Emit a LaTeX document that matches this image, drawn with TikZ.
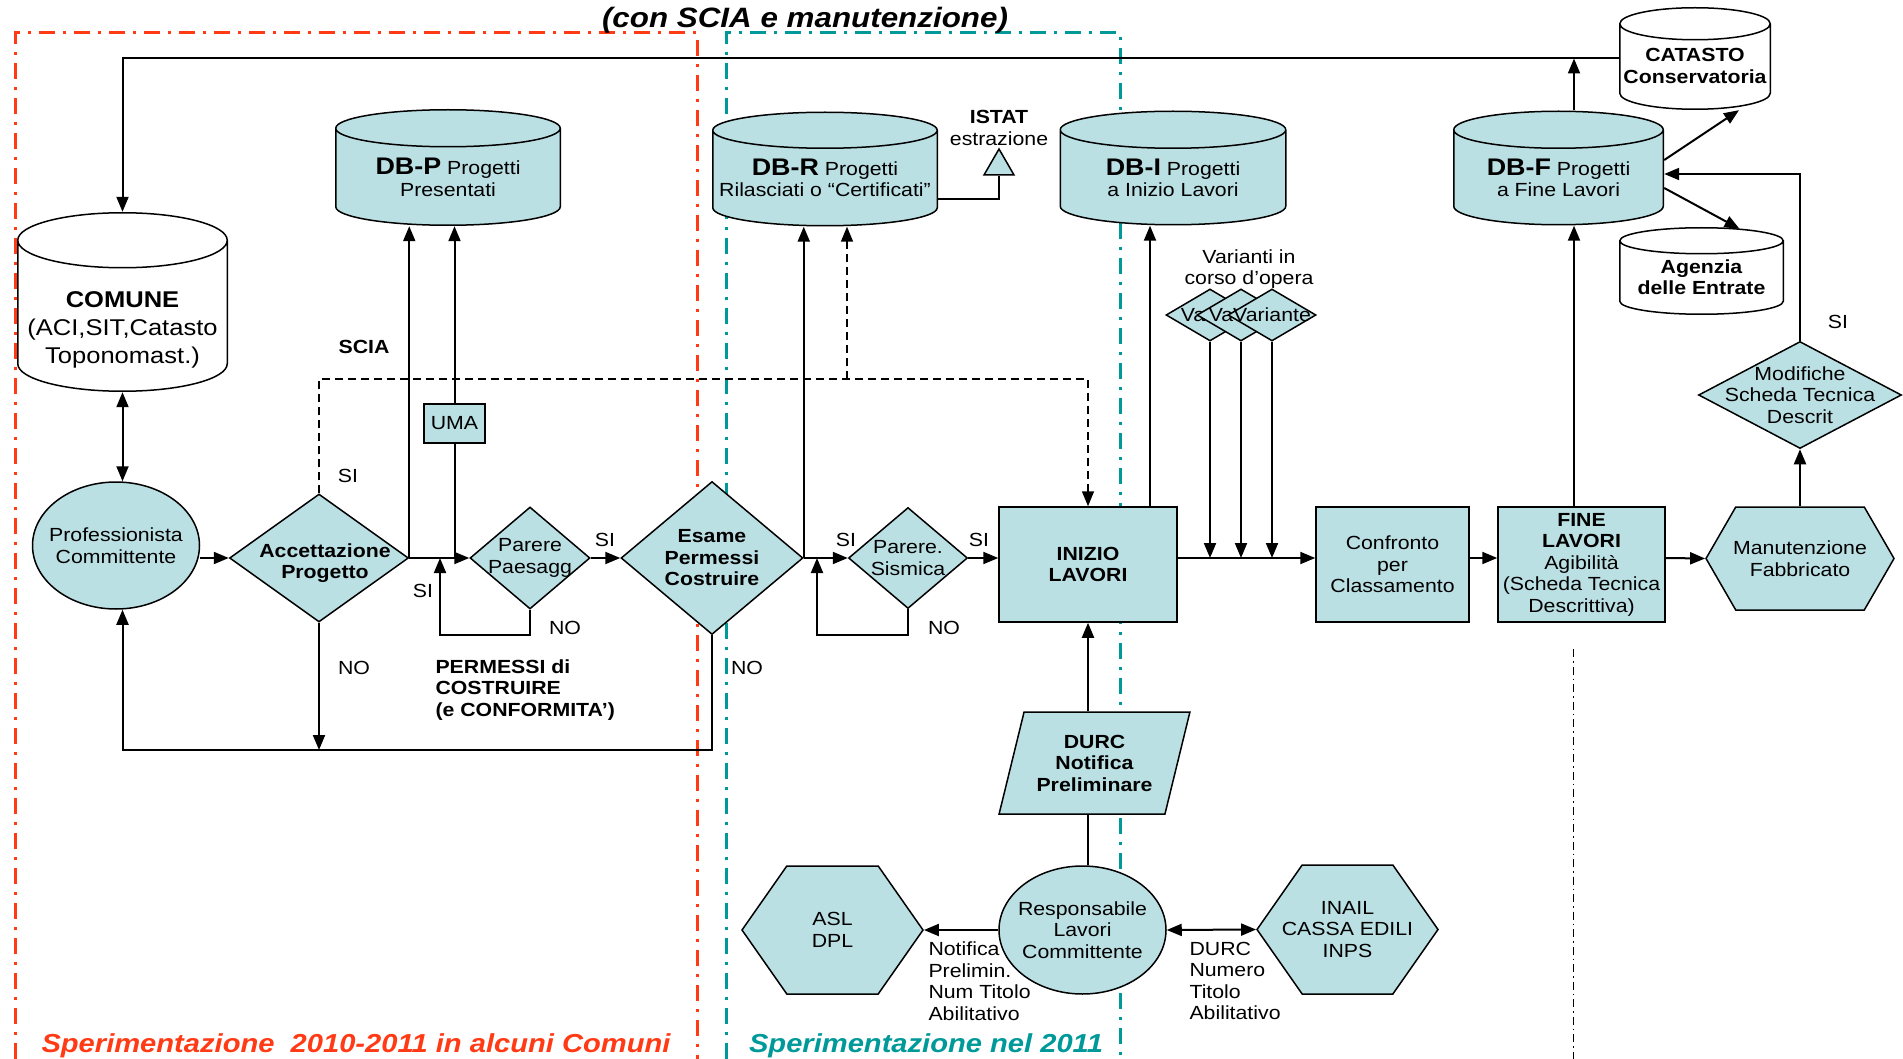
\documentclass[tikz,border=0pt]{standalone}
\usepackage{fontspec}
\setmainfont{Liberation Sans}[FakeStretch=1.12]
\usepackage{xcolor}
\usepackage{tikz}
\usetikzlibrary{shapes.geometric,shapes.symbols,arrows.meta,positioning,calc}

\definecolor{boxfill}{RGB}{187,224,228}
\definecolor{zonered}{RGB}{255,58,20}
\definecolor{zoneteal}{RGB}{0,153,153}

\begin{document}
\begin{tikzpicture}[x=1pt, y=-1pt,
    every node/.style={font=\fontsize{19}{21.5}\selectfont, align=center},
    boldtxt/.style={font=\fontsize{19}{21.5}\selectfont\bfseries},
    cyl/.style 2 args={rectangle, inner sep=0pt, path picture={
        \path[draw, fill=#2, line width=1.5pt]
          let \p1=(path picture bounding box.north west),
              \p2=(path picture bounding box.south east),
              \n1={(\x2-\x1)/2-0.75pt}
          in (\x1+0.75pt,\y1-#1-0.75pt) -- (\x1+0.75pt,\y2+#1+0.75pt)
             arc[start angle=180, end angle=360, x radius=\n1, y radius=#1]
             -- (\x2-0.75pt,\y1-#1-0.75pt)
             arc[start angle=0, end angle=180, x radius=\n1, y radius=#1]
             -- cycle
             (\x1+0.75pt,\y1-#1-0.75pt)
             arc[start angle=180, end angle=360, x radius=\n1, y radius=#1];
    }},
    decision/.style={diamond, draw, line width=1.5pt, fill=boxfill, inner sep=0pt},
    process/.style={rectangle, draw, line width=1.5pt, fill=boxfill, inner sep=2pt},
    actor/.style={ellipse, draw, line width=1.5pt, fill=boxfill, inner sep=0pt},
    office/.style={signal, signal to=west and east, signal pointer angle=110, draw, line width=1.5pt, fill=boxfill, inner sep=0pt},
    notice/.style={trapezium, trapezium left angle=70, trapezium right angle=110, trapezium stretches=true, draw, line width=1.5pt, fill=boxfill, inner sep=0pt},
    arrow/.style={-{Triangle[length=15pt,width=12pt]}, line width=2pt},
    dblarrow/.style={{Triangle[length=15pt,width=12pt]}-{Triangle[length=15pt,width=12pt]}, line width=2pt},
    dasharrow/.style={arrow, line width=1.5pt, dash pattern=on 8pt off 5pt},
    conn/.style={line width=2pt},
    zone/.style={line width=3pt, dash pattern=on 16pt off 8pt on 3pt off 8pt},
    zonelabel/.style={font=\fontsize{26}{28}\selectfont\bfseries\itshape}
]
\useasboundingbox (0,0) rectangle (1903,1059);

% Zones
\draw[zone, zonered] (15,1059) -- (15,33) -- (697,33) -- (697,1059);
\draw[zone, zoneteal] (726,1059) -- (726,33) -- (1120,33) -- (1120,1059);
\draw[line width=1pt, dash pattern=on 8pt off 4pt on 1.5pt off 4pt] (1573,649) -- (1573,1059);

% Title
\node[font=\fontsize{28}{30}\selectfont\bfseries\itshape] (title) at (805,20) {(con SCIA e manutenzione)};

% Databases
\node[cyl={27.5pt}{white}, minimum width=211pt, minimum height=180pt] (comune) at (122.5,302) {};
\node[font=\fontsize{22.8}{28}\selectfont] (comunetxt) at ([yshift=-28pt]comune.center) {\textbf{COMUNE}\\(ACI,SIT,Catasto\\Toponomast.)};
\node[cyl={18.5pt}{boxfill}, minimum width=226pt, minimum height=117pt] (dbp) at (448,167.5) {};
\node (dbptxt) at ([yshift=-10pt]dbp.center) {{\fontsize{24}{24}\selectfont\bfseries DB-P} Progetti\\Presentati};
\node[cyl={18pt}{boxfill}, minimum width=226pt, minimum height=115pt] (dbr) at (825,169) {};
\node (dbrtxt) at ([yshift=-9pt]dbr.center) {{\fontsize{24}{24}\selectfont\bfseries DB-R} Progetti\\Rilasciati o “Certificati”};
\node[cyl={18.5pt}{boxfill}, minimum width=227pt, minimum height=115pt] (dbi) at (1173,168) {};
\node (dbitxt) at ([yshift=-10pt]dbi.center) {{\fontsize{24}{24}\selectfont\bfseries DB-I} Progetti\\a Inizio Lavori};
\node[cyl={18.5pt}{boxfill}, minimum width=211pt, minimum height=115pt] (dbf) at (1558.5,168) {};
\node (dbftxt) at ([yshift=-10pt]dbf.center) {{\fontsize{24}{24}\selectfont\bfseries DB-F} Progetti\\a Fine Lavori};
\node[cyl={16pt}{white}, minimum width=152pt, minimum height=103pt] (catasto) at (1695,58.5) {};
\node[boldtxt] (catastotxt) at ([yshift=-7.5pt]catasto.center) {CATASTO\\Conservatoria};
\node[cyl={13pt}{white}, minimum width=165pt, minimum height=88pt] (agenzia) at (1701.5,271) {};
\node[boldtxt] (agenziatxt) at ([yshift=-6pt]agenzia.center) {Agenzia\\delle Entrate};

% ISTAT
\node[regular polygon, regular polygon sides=3, minimum size=34.6pt, inner sep=0pt, draw, line width=1.5pt, fill=boxfill] (istat) at (999,166.3) {};
\node (istatlbl) at (999,128) {\textbf{ISTAT}\\estrazione};

% Main flow
\node[actor, minimum width=167pt, minimum height=127pt, label={center:Professionista\\Committente}] (prof) at (116,545.5) {};
\node[decision, minimum width=179pt, minimum height=128pt, label={[boldtxt,xshift=6pt,yshift=-5pt]center:Accettazione\\Progetto}] (acc) at (319,558) {};
\node[process, minimum width=61pt, minimum height=39pt] (uma) at (454.5,423.5) {UMA};
\node[decision, minimum width=120pt, minimum height=102pt, label={center:Parere\\Paesagg}] (pp) at (530,558) {};
\node[decision, minimum width=182pt, minimum height=153pt, label={[boldtxt]center:Esame\\Permessi\\Costruire}] (esame) at (712,558) {};
\node[decision, minimum width=119pt, minimum height=101pt, label={center:Parere.\\Sismica}] (ps) at (908,558) {};
\node[process, minimum width=178pt, minimum height=115pt, boldtxt] (inizio) at (1088,564.5) {INIZIO\\LAVORI};
\node[process, minimum width=153pt, minimum height=115pt] (confr) at (1392.5,564.5) {Confronto\\per\\Classamento};
\node[process, minimum width=167pt, minimum height=115pt] (fine) at (1581.5,564.5) {\textbf{FINE}\\\textbf{LAVORI}\\Agibilità\\(Scheda Tecnica\\Descrittiva)};
\node[office, signal pointer angle=120, minimum width=188pt, minimum height=103pt, label={center:Manutenzione\\Fabbricato}] (manut) at (1800,558.5) {};
\node[decision, minimum width=203pt, minimum height=107pt, label={center:Modifiche\\Scheda Tecnica\\Descrit}] (mod) at (1800,395) {};

% Varianti
\node (varlbl) at (1249,269) {Varianti in\\corso d’opera};
\node[decision, minimum width=88pt, minimum height=52pt, label={[anchor=west,xshift=12pt]west:Va}] (var1) at (1210,315) {};
\node[decision, minimum width=88pt, minimum height=52pt, label={[anchor=west,xshift=9pt]west:Va}] (var2) at (1241,315) {};
\node[decision, minimum width=88pt, minimum height=52pt, label={center:Variante}] (var3) at (1272,315) {};

% Cantiere
\node[notice, minimum width=191pt, minimum height=102pt, boldtxt] (durc) at (1094.5,763) {DURC\\Notifica\\Preliminare};
\node[actor, minimum width=167pt, minimum height=128pt, label={center:Responsabile\\Lavori\\Committente}] (resp) at (1082.5,930) {};
\node[office, minimum width=181pt, minimum height=128pt, label={center:ASL\\DPL}] (asl) at (832.5,930) {};
\node[office, minimum width=181pt, minimum height=129pt, label={center:INAIL\\CASSA EDILI\\INPS}] (inail) at (1347.5,929.5) {};

% Connections
\coordinate (mainline) at (0,558);
\coordinate (noline) at (0,750);
\coordinate (sciaturn) at (847,379);
\coordinate (ppret) at (440,635);
\coordinate (psret) at (817,635);
\coordinate (fineline) at (1574,0);
\coordinate (inizioline) at (1150,0);

\draw[arrow] (catasto.west) -| (comune.north);
\draw[dblarrow] (comune.south) -- (comune.south |- prof.north);
\draw[arrow] (prof.east |- mainline) -- (acc.west);
\draw[arrow] (acc.east) -- (acc.east |- dbp.south);
\draw[conn] (uma.south) -- (uma.south |- mainline);
\draw[arrow] (uma.north) -- (uma.north |- dbp.south);
\draw[arrow] (acc.east) -- (pp.west);
\draw[arrow] (pp.south) |- (ppret) -- (ppret |- mainline);
\draw[arrow] (pp.east) -- (esame.west);
\draw[arrow] (esame.east) -- (esame.east |- dbr.south);
\draw[arrow] (esame.east) -- (ps.west);
\draw[arrow] (ps.south) |- (psret) -- (psret |- mainline);
\draw[arrow] (ps.east) -- (ps.east -| inizio.west);
\draw[arrow] (acc.south) -- (acc.south |- noline);
\draw[arrow] (esame.south) |- (comune.south |- noline) -- (comune.south |- prof.south);
\draw[dasharrow] (acc.north) |- (inizio.north |- sciaturn) -- (inizio.north);
\draw[dasharrow] (sciaturn) -- (sciaturn |- dbr.south);
\draw[conn] ([yshift=-30pt]dbr.east) -| (istat.south);
\draw[arrow] (inizioline |- inizio.north) -- (inizioline |- dbi.south);
\draw[arrow] (var1.south) -- (var1.south |- mainline);
\draw[arrow] (var2.south) -- (var2.south |- mainline);
\draw[arrow] (var3.south) -- (var3.south |- mainline);
\draw[arrow] (inizio.east |- mainline) -- (confr.west |- mainline);
\draw[arrow] (confr.east |- mainline) -- (fine.west |- mainline);
\draw[arrow] (fine.east |- mainline) -- (manut.west);
\draw[arrow] (fineline |- fine.north) -- (fineline |- dbf.south);
\draw[arrow] (fineline |- dbf.north) -- (fineline |- catasto.west);
\draw[arrow] ([yshift=8pt]dbf.east) -- ([xshift=44pt]catasto.south);
\draw[arrow] ([yshift=-20pt]dbf.east) -- ([xshift=38pt,yshift=-2pt]agenzia.north);
\draw[arrow] (manut.north) -- (mod.south);
\draw[arrow] (mod.north) |- ([yshift=-6pt]dbf.east);
\draw[arrow] (inizio.south |- durc.north) -- (inizio.south);
\draw[conn] (inizio.south |- resp.north) -- (inizio.south |- durc.south);
\draw[arrow] (resp.west) -- (asl.east);
\draw[dblarrow] (resp.east) -- (inail.west);

% Labels
\node[boldtxt] (scialbl) at (364,347) {SCIA};
\node[boldtxt, anchor=west, align=left] (permlbl) at (432,690) {PERMESSI di\\COSTRUIRE\\(e CONFORMITA’)};
\node[anchor=west, align=left] (notiflbl) at (925,981) {Notifica\\Prelimin.\\Num Titolo\\Abilitativo};
\node[anchor=west, align=left] (durclbl) at (1186,981) {DURC\\Numero\\Titolo\\Abilitativo};
\node (siacc) at (348,476) {SI};
\node (siloop) at (423,591) {SI};
\node (nopp) at (565,628) {NO};
\node (sipp) at (605,540) {SI};
\node (noacc) at (354,668) {NO};
\node (noesame) at (747,668) {NO};
\node (siesame) at (846,540) {SI};
\node (nops) at (944,628) {NO};
\node (sips) at (979,540) {SI};
\node (simod) at (1838,322) {SI};

% Zone names
\node[zonelabel, text=zonered] (zoneredlbl) at (356,1046) {Sperimentazione\ \ 2010-2011 in alcuni Comuni};
\node[zonelabel, text=zoneteal] (zonetealbl) at (926,1046) {Sperimentazione nel 2011};

\end{tikzpicture}
\end{document}
